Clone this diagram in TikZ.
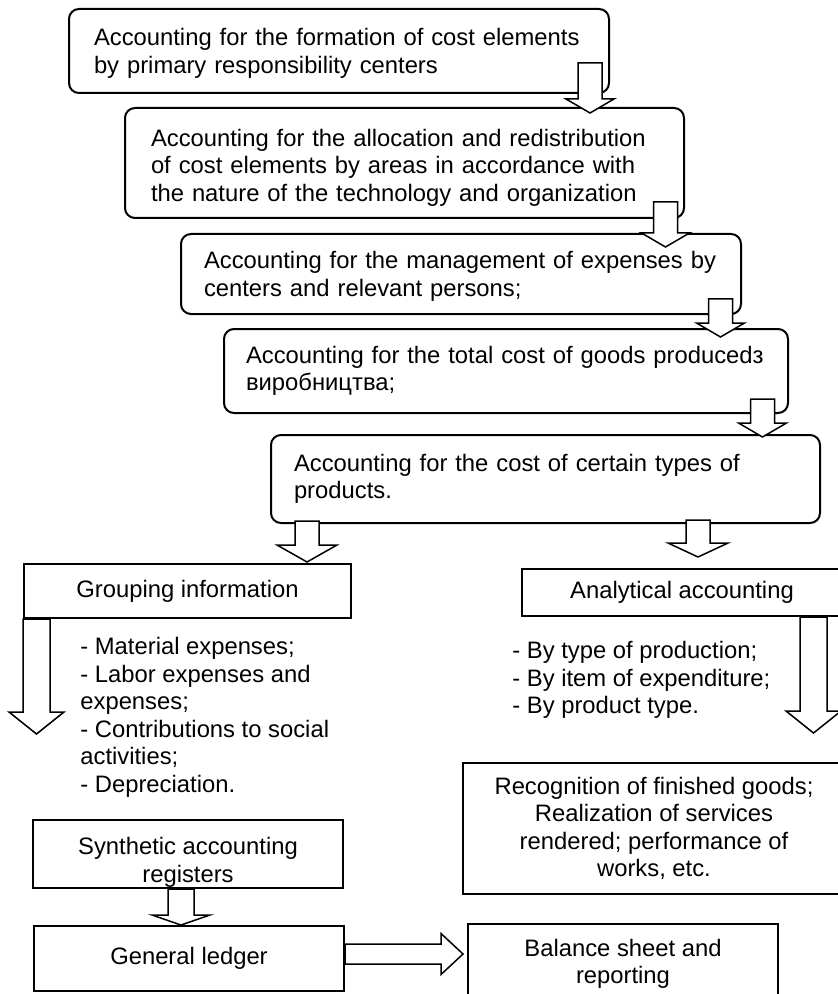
\documentclass[tikz,border=0pt]{standalone}
\usepackage{fontspec}
\setmainfont{Liberation Sans}
\usepackage{tikz}
\usetikzlibrary{calc}
\newcommand\flowfont{\fontsize{11.9pt}{13.75pt}\selectfont}
\tikzset{
  arrowShaft/.store in=\arrowShaft,
  arrowHead/.store in=\arrowHead,
  arrowTip/.store in=\arrowTip,
  arrowShaft=6pt, arrowHead=12pt, arrowTip=7pt,
  flowBox/.style={
    draw,
    rounded corners=5pt,
    line width=1pt,
    fill=white,
    align=left,
    font=\flowfont,
    anchor=north west,
    inner ysep=0pt
  },
  plainBox/.style={
    draw,
    line width=1pt,
    fill=white,
    align=center,
    font=\flowfont,
    anchor=north west,
    inner sep=0pt
  },
  listText/.style={
    align=left,
    font=\flowfont,
    anchor=north west,
    inner sep=0pt
  },
  blockDown/.style={
    draw,
    fill=white,
    line width=0.75pt,
    to path={let \p1=(\tikztostart), \p2=(\tikztotarget) in
      (\x1-\arrowShaft,\y1) -- (\x1-\arrowShaft,\y2+\arrowTip)
      -- (\x1-\arrowHead,\y2+\arrowTip) -- (\x1,\y2)
      -- (\x1+\arrowHead,\y2+\arrowTip) -- (\x1+\arrowShaft,\y2+\arrowTip)
      -- (\x1+\arrowShaft,\y1) -- cycle}
  },
  blockRight/.style={
    draw,
    fill=white,
    line width=0.75pt,
    to path={let \p1=(\tikztostart), \p2=(\tikztotarget) in
      (\x1,\y1+\arrowShaft) -- (\x2-\arrowTip,\y1+\arrowShaft)
      -- (\x2-\arrowTip,\y1+\arrowHead) -- (\x2,\y1)
      -- (\x2-\arrowTip,\y1-\arrowHead) -- (\x2-\arrowTip,\y1-\arrowShaft)
      -- (\x1,\y1-\arrowShaft) -- cycle}
  }
}

\begin{document}
\begin{tikzpicture}[x=0.5pt, y=-0.5pt]
  \useasboundingbox (0,0) rectangle (838,994);
  \clip (0,0) rectangle (838,994);

  \node[flowBox, minimum height=42pt, text width=245pt, inner xsep=12.5pt, text height=11pt] (formation) at (68,8)
    {Accounting for the formation of cost elements\\by primary responsibility centers};
  \node[flowBox, minimum height=55pt, text width=253.5pt, inner xsep=13pt, text height=13pt] (allocation) at (124,107)
    {Accounting for the allocation and redistribution\\of cost elements by areas in accordance with\\the nature of the technology and organization};
  \node[flowBox, minimum height=40pt, text width=257pt, inner xsep=11.5pt, text height=11pt] (management) at (180,233)
    {Accounting for the management of expenses by\\centers and relevant persons;};
  \node[flowBox, minimum height=42pt, text width=260pt, inner xsep=11pt] (totalcost) at (223,328)
    {Accounting for the total cost of goods producedз\\виробництва;};
  \node[flowBox, minimum height=44pt, text width=251.5pt, inner xsep=11.5pt] (products) at (270,434)
    {Accounting for the cost of certain types of\\products.};

  \node[plainBox, minimum width=163.5pt, minimum height=27pt] (grouping) at (23,563) {Grouping information};
  \node[plainBox, minimum width=160pt, minimum height=23.5pt] (analytical) at (521,568) {Analytical accounting};

  \node[listText] (groupList) at (80,637)
    {- Material expenses;\\- Labor expenses and\\expenses;\\- Contributions to social\\activities;\\- Depreciation.};
  \node[listText] (analyticList) at (512,641)
    {- By type of production;\\- By item of expenditure;\\- By product type.};

  \node[plainBox, minimum width=191pt, minimum height=65.5pt] (recognition) at (462,762)
    {Recognition of finished goods;\\Realization of services\\rendered; performance of\\works, etc.};
  \node[plainBox, minimum width=155pt, minimum height=34pt, text height=30.5pt] (synthetic) at (32,819)
    {Synthetic accounting\\registers};
  \node[plainBox, minimum width=155pt, minimum height=32.5pt] (ledger) at (33,925) {General ledger};
  \node[plainBox, minimum width=155pt, minimum height=40pt] (balance) at (467,923)
    {Balance sheet and\\reporting};

  \coordinate (groupTip) at (36.5,734);
  \coordinate (analyticTip) at (813.5,733);

  \draw[blockDown] ($(formation.south east)+(-20,-31)$) to ($(allocation.north east)+(-95,6)$);
  \draw[blockDown] ($(allocation.south east)+(-19.5,-17)$) to ($(management.north east)+(-76.5,14)$);
  \draw[blockDown] ($(management.south east)+(-21.5,-16)$) to ($(totalcost.north east)+(-68.5,9)$);
  \draw[blockDown] ($(totalcost.south east)+(-26.5,-15)$) to ($(products.north east)+(-58.5,3)$);
  \draw[blockDown, arrowHead=15pt, arrowTip=8.5pt] ($(products.south west)+(37,-3)$) to ($(grouping.north east)+(-43,-1)$);
  \draw[blockDown, arrowHead=15pt] ($(products.south east)+(-123,-4)$) to ($(analytical.north west)+(175,-11)$);
  \draw[blockDown, arrowShaft=6.75pt, arrowHead=13.75pt, arrowTip=11pt] ($(grouping.south west)+(13.5,0)$) to (groupTip);
  \draw[blockDown, arrowShaft=6.75pt, arrowHead=13.75pt, arrowTip=11pt] ($(analytical.south west)+(292.5,0)$) to (analyticTip);
  \draw[blockDown, arrowShaft=6.5pt, arrowHead=14.5pt, arrowTip=5pt] ($(synthetic.south west)+(149,0)$) to ($(ledger.north west)+(148,0)$);
  \draw[blockRight, arrowShaft=5pt, arrowHead=10.25pt, arrowTip=11pt] ($(ledger.east)+(0,-4.5)$) to ($(balance.north west)+(-4,31)$);
\end{tikzpicture}
\end{document}
